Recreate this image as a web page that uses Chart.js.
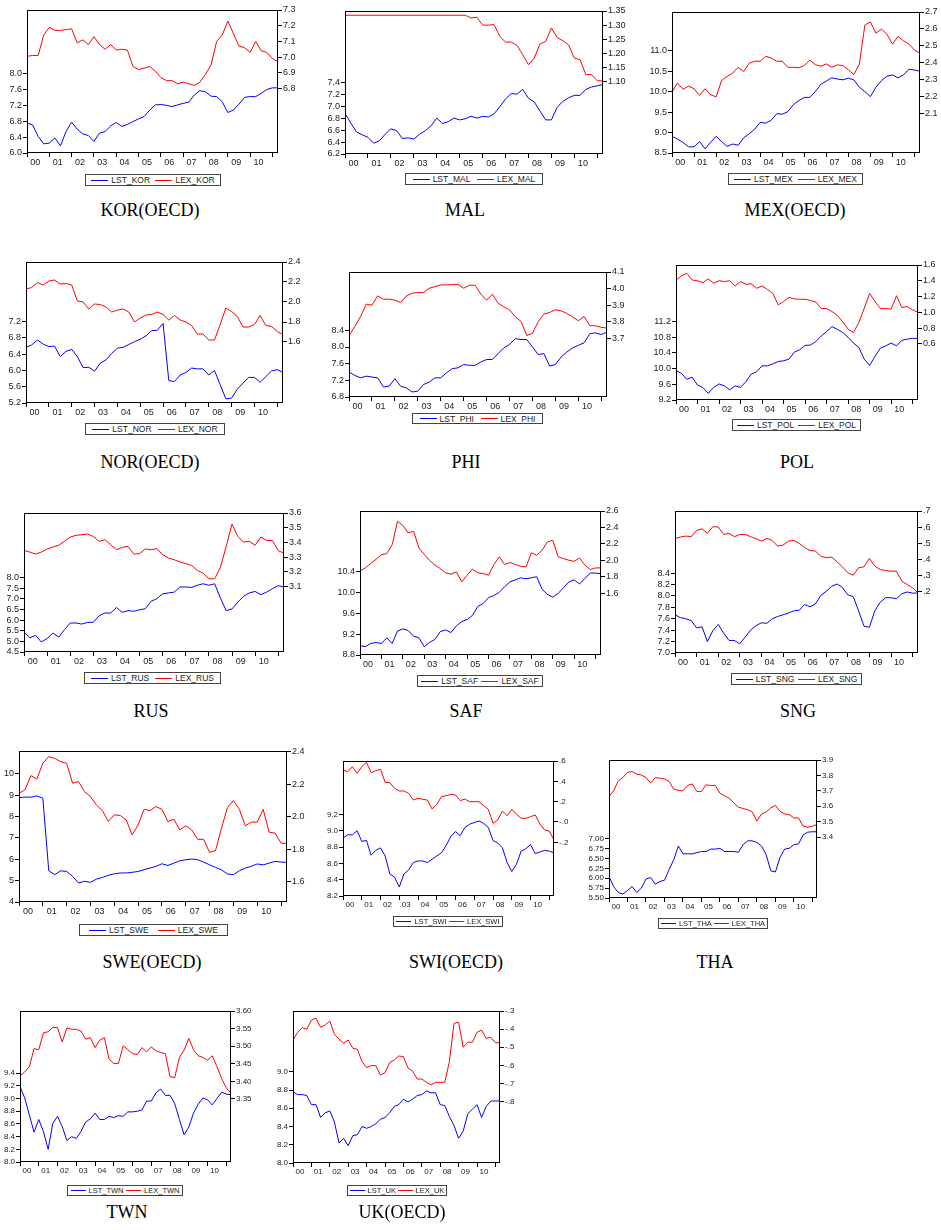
<!DOCTYPE html>
<html>
<head>
<meta charset="utf-8">
<script src="https://cdn.jsdelivr.net/npm/chart.js@4.4.1/dist/chart.umd.min.js"></script>
<style>
  body { margin: 0; background: #fff; }
  #page { position: relative; width: 941px; height: 1230px; overflow: hidden; background: #fff; }
  #page canvas { position: absolute; }
  .legend { position: absolute; box-sizing: border-box; border: 1px solid #444; display: flex; align-items: center;
            justify-content: space-evenly; font-family: "Liberation Sans", Arial, sans-serif; color: #222; white-space: nowrap; }
  .legend span { display: flex; align-items: center; line-height: 10px; }
  .legend i { display: block; height: 1px; margin-right: 3px; }
  .title { position: absolute; transform: translateX(-50%); font-family: "Liberation Serif", "Times New Roman", serif;
           font-size: 18px; line-height: 20px; color: #000; white-space: nowrap; }
</style>
</head>
<body>
<div id="page"></div>
<script>
// quarterly observations 2000Q1 .. 2011Q2
const quarters = []
for (let y = 2000; y <= 2011; y++) {
  for (let q = 1; q <= 4; q++) {
    if (quarters.length < 46) quarters.push(y + 'Q' + q)
  }
}
const yearLabels = ['00', '01', '02', '03', '04', '05', '06', '07', '08', '09', '10']

// LST = blue, left axis ; LEX = red, right axis
const lstKor = [6.75,6.71,6.42,6.23,6.25,6.38,6.18,6.54,6.78,6.60,6.48,6.44,6.29,6.50,6.54,6.68,6.77,6.67,6.72,6.79,6.86,6.92,7.08,
  7.21,7.22,7.20,7.17,7.21,7.25,7.28,7.46,7.57,7.54,7.43,7.42,7.29,7.02,7.08,7.23,7.40,7.42,7.42,7.50,7.60,7.64,7.64]
const lexKor = [7.005,7.01,7.01,7.14,7.19,7.17,7.17,7.175,7.18,7.09,7.11,7.08,7.13,7.08,7.05,7.08,7.045,7.05,7.045,6.94,6.92,6.93,6.94,
  6.91,6.87,6.85,6.85,6.83,6.84,6.83,6.82,6.84,6.89,6.95,7.10,7.14,7.23,7.15,7.07,7.06,7.03,7.10,7.04,7.03,6.99,6.97]
const korLeftTicks = ['6.0', '6.4', '6.8', '7.2', '7.6', '8.0']
const korRightTicks = ['6.8', '6.9', '7.0', '7.1', '7.2', '7.3']

const lstMal = [6.88,6.72,6.57,6.52,6.48,6.38,6.42,6.53,6.62,6.59,6.46,6.47,6.45,6.53,6.59,6.67,6.80,6.71,6.74,6.80,6.77,6.79,6.83,
  6.80,6.83,6.82,6.87,6.99,7.12,7.21,7.20,7.28,7.13,7.07,6.92,6.77,6.77,6.98,7.08,7.14,7.18,7.18,7.28,7.32,7.34,7.36]
const lexMal = [1.335,1.335,1.335,1.335,1.335,1.335,1.335,1.335,1.335,1.335,1.335,1.335,1.335,1.335,1.335,1.335,1.335,1.335,1.335,1.335,
  1.335,1.335,1.325,1.328,1.30,1.30,1.302,1.26,1.24,1.24,1.228,1.195,1.16,1.183,1.233,1.243,1.29,1.256,1.245,1.23,1.183,1.178,
  1.125,1.125,1.103,1.103]
const malLeftTicks = ['6.2', '6.4', '6.6', '6.8', '7.0', '7.2', '7.4']
const malRightTicks = ['1.10', '1.15', '1.20', '1.25', '1.30', '1.35']

const lstMex = [8.91,8.84,8.76,8.65,8.65,8.78,8.60,8.76,8.91,8.78,8.66,8.72,8.69,8.87,8.97,9.08,9.25,9.23,9.30,9.46,9.45,9.51,9.68,
  9.78,9.86,9.86,10.0,10.18,10.26,10.34,10.31,10.29,10.33,10.29,10.11,10.0,9.88,10.11,10.27,10.38,10.41,10.34,10.41,10.55,10.53,10.5]
const lexMex = [2.227,2.28,2.243,2.262,2.246,2.207,2.246,2.211,2.198,2.295,2.319,2.338,2.373,2.348,2.397,2.409,2.409,2.438,2.428,2.409,
  2.409,2.373,2.373,2.37,2.383,2.416,2.389,2.379,2.393,2.373,2.387,2.383,2.358,2.33,2.393,2.623,2.641,2.575,2.598,2.569,2.51,2.555,
  2.53,2.51,2.475,2.457]
const mexLeftTicks = ['8.5', '9.0', '9.5', '10.0', '10.5', '11.0']
const mexRightTicks = ['2.1', '2.2', '2.3', '2.4', '2.5', '2.6', '2.7']

const lstNor = [6.57,6.63,6.75,6.65,6.59,6.6,6.34,6.47,6.52,6.34,6.07,6.08,5.98,6.18,6.26,6.42,6.55,6.57,6.64,6.71,6.77,6.85,6.98,
  6.99,7.16,5.75,5.73,5.89,5.95,6.06,6.04,6.04,5.89,6.0,5.65,5.30,5.32,5.54,5.69,5.83,5.83,5.71,5.85,5.99,6.02,5.95]
const lexNor = [2.13,2.145,2.195,2.17,2.21,2.22,2.18,2.185,2.17,2.01,2.0,1.93,1.98,1.975,1.95,1.90,1.92,1.93,1.90,1.80,1.84,1.87,1.875,
  1.90,1.875,1.82,1.865,1.82,1.80,1.765,1.68,1.68,1.62,1.62,1.775,1.94,1.905,1.855,1.75,1.75,1.775,1.865,1.765,1.755,1.705,1.675]
const norLeftTicks = ['5.2', '5.6', '6.0', '6.4', '6.8', '7.2']
const norRightTicks = ['1.6', '1.8', '2.0', '2.2', '2.4']

const lstPhi = [7.40,7.32,7.26,7.30,7.28,7.26,7.04,7.06,7.24,7.06,7.02,6.92,6.94,7.10,7.16,7.26,7.26,7.38,7.48,7.50,7.58,7.56,7.56,
  7.64,7.70,7.70,7.84,7.98,8.06,8.20,8.18,8.18,8.0,7.82,7.84,7.54,7.58,7.76,7.88,7.98,8.04,8.10,8.32,8.34,8.30,8.36]
const lexPhi = [3.716,3.77,3.83,3.906,3.90,3.956,3.936,3.936,3.93,3.916,3.956,3.972,3.976,3.976,4.002,4.012,4.022,4.022,4.024,4.026,
  4.002,4.02,4.02,3.966,3.93,3.966,3.912,3.89,3.872,3.83,3.802,3.716,3.73,3.80,3.846,3.856,3.872,3.866,3.85,3.83,3.806,3.832,
  3.776,3.776,3.766,3.762]
const phiLeftTicks = ['6.8', '7.2', '7.6', '8.0', '8.4']
const phiRightTicks = ['3.7', '3.8', '3.9', '4.0', '4.1']

const lstPol = [9.95,9.88,9.73,9.78,9.58,9.52,9.37,9.52,9.61,9.56,9.46,9.56,9.52,9.67,9.86,9.92,10.07,10.07,10.12,10.18,10.2,10.24,
  10.42,10.48,10.59,10.6,10.69,10.83,10.94,11.07,11.0,10.92,10.8,10.65,10.54,10.24,10.08,10.31,10.52,10.58,10.65,10.58,10.72,10.75,
  10.77,10.77]
const lexPol = [1.41,1.46,1.495,1.41,1.40,1.376,1.423,1.37,1.40,1.39,1.40,1.334,1.39,1.355,1.36,1.305,1.334,1.29,1.24,1.094,1.136,
  1.19,1.17,1.165,1.165,1.15,1.13,1.05,1.047,1.01,0.96,0.88,0.786,0.743,0.87,1.05,1.24,1.136,1.05,1.047,1.04,1.21,1.06,1.073,1.03,1.0]
const polLeftTicks = ['9.2', '9.6', '10.0', '10.4', '10.8', '11.2']
const polRightTicks = ['0.6', '0.8', '1.0', '1.2', '1.4', '1.6']

const lstRus = [5.44,5.16,5.28,4.97,5.13,5.39,5.20,5.55,5.86,5.86,5.81,5.89,5.89,6.20,6.33,6.33,6.59,6.36,6.44,6.41,6.48,6.53,6.88,
  7.0,7.23,7.27,7.31,7.55,7.55,7.53,7.63,7.70,7.63,7.70,7.03,6.44,6.52,6.84,7.11,7.27,7.34,7.19,7.31,7.47,7.61,7.55]
const lexRus = [3.345,3.334,3.32,3.334,3.355,3.368,3.38,3.407,3.436,3.448,3.452,3.457,3.44,3.407,3.418,3.384,3.35,3.366,3.373,3.32,
  3.323,3.355,3.35,3.357,3.316,3.293,3.282,3.266,3.255,3.243,3.209,3.19,3.152,3.152,3.23,3.373,3.525,3.44,3.402,3.407,3.38,3.436,
  3.413,3.413,3.343,3.327]
const rusLeftTicks = ['4.5', '5.0', '5.5', '6.0', '6.5', '7.0', '7.5', '8.0']
const rusRightTicks = ['3.1', '3.2', '3.3', '3.4', '3.5', '3.6']

const lstSaf = [8.98,8.96,9.02,9.04,9.02,9.13,9.02,9.26,9.30,9.27,9.16,9.13,8.96,9.04,9.10,9.25,9.28,9.23,9.36,9.44,9.48,9.56,9.73,
  9.79,9.90,9.94,10.0,10.11,10.2,10.24,10.28,10.26,10.28,10.30,10.06,9.96,9.91,9.98,10.09,10.2,10.24,10.16,10.27,10.37,10.37,10.36]
const lexSaf = [1.874,1.91,1.963,2.015,2.07,2.084,2.19,2.475,2.426,2.334,2.354,2.152,2.072,2.0,1.943,1.902,1.85,1.834,1.862,1.741,
  1.822,1.895,1.85,1.842,1.822,1.951,2.044,1.951,1.975,1.951,1.93,1.922,2.092,2.064,2.124,2.225,2.245,2.044,2.023,2.003,1.99,2.03,
  1.943,1.89,1.91,1.91]
const safLeftTicks = ['8.8', '9.2', '9.6', '10.0', '10.4']
const safRightTicks = ['1.6', '1.8', '2.0', '2.2', '2.4', '2.6']

const lstSng = [7.67,7.62,7.60,7.57,7.44,7.46,7.20,7.39,7.50,7.35,7.22,7.22,7.16,7.28,7.40,7.48,7.53,7.52,7.60,7.64,7.67,7.70,7.74,
  7.75,7.85,7.81,7.86,8.01,8.08,8.17,8.21,8.15,8.02,7.99,7.74,7.47,7.45,7.74,7.89,7.97,7.97,7.95,8.04,8.07,8.05,8.05]
const lexSng = [0.529,0.539,0.545,0.541,0.58,0.59,0.562,0.603,0.601,0.555,0.562,0.541,0.555,0.555,0.541,0.529,0.514,0.531,0.518,
  0.483,0.489,0.514,0.518,0.50,0.473,0.456,0.452,0.421,0.411,0.415,0.386,0.355,0.318,0.303,0.349,0.355,0.407,0.359,0.338,0.332,
  0.328,0.328,0.266,0.245,0.225,0.194]
const sngLeftTicks = ['7.0', '7.2', '7.4', '7.6', '7.8', '8.0', '8.2', '8.4']
const sngRightTicks = ['.2', '.3', '.4', '.5', '.6', '.7']

const lstSwe = [8.89,8.91,8.91,8.97,8.86,5.46,5.28,5.46,5.43,5.2,4.89,4.97,4.92,5.07,5.15,5.25,5.32,5.36,5.36,5.39,5.43,5.51,5.59,
  5.67,5.79,5.71,5.82,5.93,5.98,6.01,5.98,5.87,5.74,5.62,5.51,5.31,5.28,5.46,5.59,5.67,5.78,5.74,5.82,5.90,5.87,5.85]
const lexSwe = [2.144,2.165,2.253,2.232,2.329,2.37,2.36,2.339,2.329,2.206,2.216,2.154,2.124,2.072,2.037,1.97,2.011,2.007,1.98,1.887,
  1.949,2.045,2.037,2.062,2.045,1.97,1.984,1.918,1.943,1.918,1.86,1.86,1.779,1.791,1.929,2.056,2.099,2.045,1.943,1.966,1.966,2.045,
  1.904,1.898,1.836,1.836]
const sweLeftTicks = ['4', '5', '6', '7', '8', '9', '10']
const sweRightTicks = ['1.6', '1.8', '2.0', '2.2', '2.4']

const lstSwi = [8.91,8.95,8.95,9.0,8.87,8.88,8.70,8.76,8.79,8.69,8.47,8.43,8.31,8.47,8.52,8.61,8.63,8.63,8.61,8.65,8.69,8.73,8.82,
  8.93,8.99,8.94,9.04,9.08,9.10,9.12,9.09,9.04,8.88,8.85,8.79,8.61,8.50,8.59,8.75,8.78,8.83,8.72,8.74,8.76,8.75,8.73]
const lexSwi = [0.511,0.495,0.544,0.479,0.544,0.587,0.485,0.505,0.518,0.39,0.387,0.331,0.305,0.305,0.282,0.216,0.233,0.223,0.216,
  0.128,0.174,0.249,0.259,0.272,0.266,0.21,0.226,0.20,0.20,0.20,0.161,0.125,-0.013,0.02,0.108,0.062,0.125,0.075,0.036,0.036,
  0.052,0.069,-0.02,-0.079,-0.089,-0.177]
const swiLeftTicks = ['8.2', '8.4', '8.6', '8.8', '9.0', '9.2']
const swiRightTicks = ['-.2', '-.0', '.2', '.4', '.6']

const lstTha = [6.05,5.79,5.64,5.60,5.69,5.79,5.64,5.75,5.98,6.02,5.85,5.92,5.95,6.22,6.47,6.82,6.62,6.62,6.62,6.65,6.68,6.68,6.74,
  6.74,6.76,6.68,6.68,6.68,6.66,6.85,6.95,6.95,6.91,6.82,6.60,6.19,6.16,6.53,6.74,6.76,6.85,6.87,7.10,7.17,7.18,7.18]
const lexTha = [3.664,3.70,3.765,3.786,3.82,3.825,3.808,3.803,3.786,3.75,3.786,3.782,3.777,3.76,3.711,3.703,3.70,3.735,3.745,3.696,
  3.696,3.739,3.735,3.735,3.685,3.668,3.653,3.621,3.595,3.585,3.578,3.563,3.503,3.55,3.563,3.589,3.606,3.567,3.55,3.546,3.524,
  3.524,3.471,3.464,3.471,3.482]
const thaLeftTicks = ['5.50', '5.75', '6.00', '6.25', '6.50', '6.75', '7.00']
const thaRightTicks = ['3.4', '3.5', '3.6', '3.7', '3.8', '3.9']

const lstTwn = [9.19,9.01,8.74,8.47,8.67,8.48,8.20,8.61,8.72,8.56,8.34,8.40,8.37,8.48,8.63,8.68,8.77,8.67,8.67,8.72,8.70,8.73,8.72,
  8.79,8.79,8.80,8.82,8.96,8.96,9.09,9.15,9.05,9.05,8.92,8.67,8.43,8.55,8.77,8.91,9.01,8.98,8.90,9.0,9.10,9.07,9.06]
const lexTwn = [3.416,3.427,3.442,3.493,3.49,3.538,3.541,3.553,3.553,3.512,3.552,3.548,3.548,3.543,3.52,3.524,3.496,3.517,3.524,3.463,
  3.451,3.451,3.501,3.49,3.479,3.476,3.496,3.484,3.498,3.487,3.482,3.479,3.413,3.411,3.468,3.489,3.522,3.49,3.473,3.468,3.46,
  3.473,3.442,3.408,3.382,3.366]
const twnLeftTicks = ['8.0', '8.2', '8.4', '8.6', '8.8', '9.0', '9.2', '9.4']
const twnRightTicks = ['3.35', '3.40', '3.45', '3.50', '3.55', '3.60']

const lstUk = [8.78,8.75,8.75,8.74,8.64,8.64,8.50,8.55,8.57,8.45,8.22,8.27,8.19,8.30,8.31,8.40,8.38,8.40,8.43,8.48,8.50,8.55,8.62,
  8.64,8.70,8.67,8.70,8.74,8.75,8.79,8.77,8.77,8.64,8.63,8.51,8.41,8.27,8.35,8.54,8.59,8.64,8.50,8.62,8.68,8.68,8.68]
const lexUk = [-0.46,-0.418,-0.392,-0.401,-0.35,-0.34,-0.39,-0.377,-0.355,-0.429,-0.454,-0.478,-0.46,-0.506,-0.511,-0.579,-0.612,
  -0.601,-0.601,-0.653,-0.64,-0.585,-0.57,-0.548,-0.552,-0.614,-0.631,-0.675,-0.675,-0.693,-0.708,-0.693,-0.693,-0.693,-0.579,
  -0.368,-0.362,-0.50,-0.472,-0.472,-0.418,-0.405,-0.451,-0.445,-0.475,-0.475]
const ukLeftTicks = ['8.0', '8.2', '8.4', '8.6', '8.8', '9.0']
const ukRightTicks = ['-.8', '-.7', '-.6', '-.5', '-.4', '-.3']

const BLUE = '#0000ff'
const RED = '#ff0000'
const PAD_L = 34, PAD_R = 32, PAD_T = 12, PAD_B = 16

// box = plot area [left, top, right, bottom], legend = [left, top, width, height], title = [centre x, centre y]
const panels = [
  { code: 'KOR', title: 'KOR(OECD)', lst: lstKor, lex: lexKor, lt: korLeftTicks, rt: korRightTicks, lr: [6.0, 9.6], rr: [6.389, 7.3],
    box: [27, 10, 278, 153], legend: [85, 174, 136, 12], at: [150, 210], fs: 9 },
  { code: 'MAL', title: 'MAL', lst: lstMal, lex: lexMal, lt: malLeftTicks, rt: malRightTicks, lr: [6.2, 8.59], rr: [0.844, 1.35],
    box: [345, 11, 603, 154], legend: [405, 173, 138, 12], at: [465, 210], fs: 9 },
  { code: 'MEX', title: 'MEX(OECD)', lst: lstMex, lex: lexMex, lt: mexLeftTicks, rt: mexRightTicks, lr: [8.5, 11.95], rr: [1.866, 2.7],
    box: [672, 12, 920, 153], legend: [728, 173, 135, 12], at: [795, 210], fs: 9 },
  { code: 'NOR', title: 'NOR(OECD)', lst: lstNor, lex: lexNor, lt: norLeftTicks, rt: norRightTicks, lr: [5.2, 8.67], rr: [0.99, 2.4],
    box: [26, 262, 283, 403], legend: [85, 423, 140, 12], at: [150, 462], fs: 9 },
  { code: 'PHI', title: 'PHI', lst: lstPhi, lex: lexPhi, lt: phiLeftTicks, rt: phiRightTicks, lr: [6.8, 9.8], rr: [3.346, 4.1],
    box: [349, 272, 607, 397], legend: [412, 413, 131, 11], at: [466, 462], fs: 9 },
  { code: 'POL', title: 'POL', lst: lstPol, lex: lexPol, lt: polLeftTicks, rt: polRightTicks, lr: [9.2, 12.64], rr: [-0.113, 1.6],
    box: [676, 265, 918, 400], legend: [732, 419, 129, 12], at: [797, 462], fs: 9 },
  { code: 'RUS', title: 'RUS', lst: lstRus, lex: lexRus, lt: rusLeftTicks, rt: rusRightTicks, lr: [4.5, 11.02], rr: [2.653, 3.6],
    box: [24, 513, 284, 652], legend: [84, 672, 137, 12], at: [151, 711], fs: 9 },
  { code: 'SAF', title: 'SAF', lst: lstSaf, lex: lexSaf, lt: safLeftTicks, rt: safRightTicks, lr: [8.8, 11.56], rr: [0.854, 2.6],
    box: [360, 511, 601, 655], legend: [417, 675, 126, 12], at: [466, 711], fs: 9 },
  { code: 'SNG', title: 'SNG', lst: lstSng, lex: lexSng, lt: sngLeftTicks, rt: sngRightTicks, lr: [7.0, 9.49], rr: [-0.178, 0.7],
    box: [675, 511, 918, 653], legend: [731, 673, 131, 12], at: [798, 711], fs: 9 },
  { code: 'SWE', title: 'SWE(OECD)', lst: lstSwe, lex: lexSwe, lt: sweLeftTicks, rt: sweRightTicks, lr: [4, 11.07], rr: [1.473, 2.405],
    box: [19, 751, 287, 902], legend: [79, 924, 149, 12], at: [152, 962], fs: 9 },
  { code: 'SWI', title: 'SWI(OECD)', lst: lstSwi, lex: lexSwi, lt: swiLeftTicks, rt: swiRightTicks, lr: [8.2, 9.855], rr: [-0.728, 0.6],
    box: [343, 761, 554, 896], legend: [393, 916, 110, 11], at: [456, 962], fs: 8 },
  { code: 'THA', title: 'THA', lst: lstTha, lex: lexTha, lt: thaLeftTicks, rt: thaRightTicks, lr: [5.5, 9.0], rr: [3.005, 3.9],
    box: [609, 760, 817, 898], legend: [658, 918, 110, 11], at: [715, 962], fs: 8 },
  { code: 'TWN', title: 'TWN', lst: lstTwn, lex: lexTwn, lt: twnLeftTicks, rt: twnRightTicks, lr: [8.0, 10.38], rr: [3.171, 3.6],
    box: [20, 1011, 231, 1162], legend: [67, 1185, 116, 11], at: [127, 1212], fs: 8 },
  { code: 'UK', title: 'UK(OECD)', lst: lstUk, lex: lexUk, lt: ukLeftTicks, rt: ukRightTicks, lr: [8.0, 9.667], rr: [-1.138, -0.3],
    box: [293, 1011, 500, 1163], legend: [347, 1185, 100, 11], at: [402, 1212], fs: 8 }
]

const page = document.getElementById('page')

// black frame round the plot area
const framePlugin = {
  id: 'frame',
  afterDatasetsDraw(chart) {
    const a = chart.chartArea
    const ctx = chart.ctx
    ctx.save()
    ctx.strokeStyle = '#000'
    ctx.lineWidth = 1
    ctx.strokeRect(Math.round(a.left) + 0.5, Math.round(a.top) + 0.5,
      Math.round(a.right - a.left) - 1, Math.round(a.bottom - a.top) - 1)
    ctx.restore()
  }
}

function valueAxis(position, labels, range, font, width) {
  return {
    type: 'linear',
    position: position,
    min: range[0],
    max: range[1],
    border: { display: false },
    grid: { drawOnChartArea: false, drawTicks: true, tickLength: 4, tickColor: '#000', color: '#000' },
    ticks: { font: font, color: '#222', padding: 1, autoSkip: false, callback: (v, i) => labels[i] },
    afterBuildTicks: s => { s.ticks = labels.map(l => ({ value: parseFloat(l) })) },
    afterFit: s => { s.width = width }
  }
}

function makePanel(p) {
  const [L, T, R, B] = p.box
  const w = R - L + PAD_L + PAD_R
  const h = B - T + PAD_T + PAD_B
  const canvas = document.createElement('canvas')
  canvas.width = w
  canvas.height = h
  canvas.style.left = (L - PAD_L) + 'px'
  canvas.style.top = (T - PAD_T) + 'px'
  canvas.style.width = w + 'px'
  canvas.style.height = h + 'px'
  page.appendChild(canvas)

  const font = { family: "'Liberation Sans', Arial, sans-serif", size: p.fs }

  const chart = new Chart(canvas, {
    type: 'line',
    data: {
      datasets: [
        { label: 'LST_' + p.code, data: p.lst.map((v, i) => ({ x: i, y: v })), borderColor: BLUE, yAxisID: 'yL' },
        { label: 'LEX_' + p.code, data: p.lex.map((v, i) => ({ x: i, y: v })), borderColor: RED, yAxisID: 'yR' }
      ]
    },
    options: {
      responsive: false,
      animation: false,
      devicePixelRatio: 1,
      layout: { padding: { top: PAD_T, left: 0, right: 0, bottom: 0 } },
      elements: { point: { radius: 0 }, line: { borderWidth: 1, tension: 0 } },
      plugins: { legend: { display: false }, tooltip: { enabled: false } },
      scales: {
        x: {
          type: 'linear',
          min: 0,
          max: quarters.length - 1,
          border: { display: false },
          grid: {
            drawOnChartArea: false, drawTicks: true, tickLength: 4,
            tickColor: c => (c.tick && c.tick.value % 4 === 0) ? '#000' : 'rgba(0,0,0,0)'
          },
          ticks: {
            font: font, color: '#222', padding: 0, autoSkip: false, maxRotation: 0,
            callback: v => (v % 4 === 0) ? '' : yearLabels[(v - 1.5) / 4]
          },
          afterBuildTicks: s => {
            const t = []
            for (let q = 0; q < quarters.length; q += 4) t.push({ value: q })
            yearLabels.forEach((lab, k) => t.push({ value: 4 * k + 1.5 }))
            s.ticks = t.sort((a, b) => a.value - b.value)
          },
          afterFit: s => { s.height = PAD_B }
        },
        yL: valueAxis('left', p.lt, p.lr, font, PAD_L),
        yR: valueAxis('right', p.rt, p.rr, font, PAD_R)
      }
    },
    plugins: [framePlugin]
  })

  // legend box under the plot
  const lg = document.createElement('div')
  lg.className = 'legend'
  lg.style.left = p.legend[0] + 'px'
  lg.style.top = p.legend[1] + 'px'
  lg.style.width = p.legend[2] + 'px'
  lg.style.height = p.legend[3] + 'px'
  lg.style.fontSize = (p.fs - 0.5) + 'px'
  chart.data.datasets.forEach(d => {
    const item = document.createElement('span')
    item.innerHTML = '<i style="width:' + Math.round(p.fs * 1.9) + 'px;background:' + d.borderColor + '"></i>' + d.label
    lg.appendChild(item)
  })
  page.appendChild(lg)

  const tt = document.createElement('div')
  tt.className = 'title'
  tt.style.left = p.at[0] + 'px'
  tt.style.top = (p.at[1] - 10) + 'px'
  tt.textContent = p.title
  page.appendChild(tt)
}

panels.forEach(makePanel)
</script>
</body>
</html>
